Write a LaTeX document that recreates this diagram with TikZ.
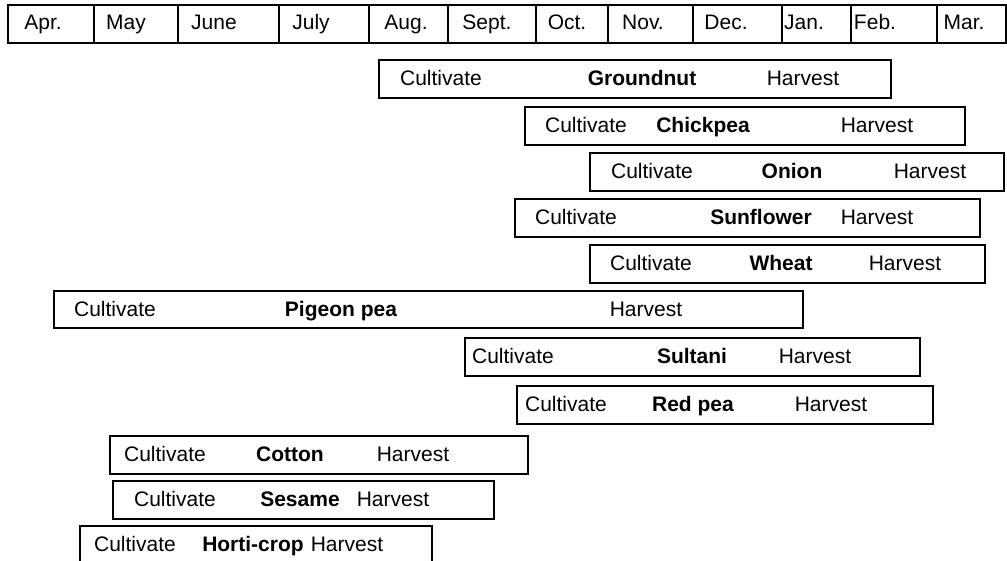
\documentclass[tikz,border=0pt]{standalone}
\usepackage{fontspec}
\setmainfont{Liberation Sans}
\tikzset{cell/.style={draw,line width=1.6pt,anchor=north west,inner sep=0pt,minimum height=38pt}}
\tikzset{cropbox/.style={cell}}
\tikzset{word/.style={anchor=base,inner sep=0pt,font=\fontsize{21}{25}\selectfont}}
\tikzset{crop/.style={word,font=\fontsize{21}{25}\selectfont\bfseries}}

\begin{document}
\begin{tikzpicture}[x=1pt,y=-1pt]
        \useasboundingbox (0,0) rectangle (1007,560);
        % month header
        \node[cell,minimum width=86pt] (apr) at (7,4) {};
        \node[cell,minimum width=84pt] (may) at (93,4) {};
        \node[cell,minimum width=101pt] (jun) at (177,4) {};
        \node[cell,minimum width=90pt] (jul) at (278,4) {};
        \node[cell,minimum width=79pt] (aug) at (368,4) {};
        \node[cell,minimum width=88pt] (sep) at (447,4) {};
        \node[cell,minimum width=72pt] (oct) at (535,4) {};
        \node[cell,minimum width=85pt] (nov) at (607,4) {};
        \node[cell,minimum width=89pt] (dec) at (692,4) {};
        \node[cell,minimum width=69pt] (jan) at (781,4) {};
        \node[cell,minimum width=86pt] (feb) at (850,4) {};
        \node[cell,minimum width=69pt] (mar) at (936,4) {};
        \node[word] (aprt) at (43,29.5) {Apr.};
        \node[word] (mayt) at (126,29.5) {May};
        \node[word] (junt) at (214,29.5) {June};
        \node[word] (jult) at (311,29.5) {July};
        \node[word] (augt) at (406,29.5) {Aug.};
        \node[word] (sept) at (487,29.5) {Sept.};
        \node[word] (octt) at (567,29.5) {Oct.};
        \node[word] (novt) at (643,29.5) {Nov.};
        \node[word] (dect) at (726,29.5) {Dec.};
        \node[word] (jant) at (804,29.5) {Jan.};
        \node[word] (febt) at (875,29.5) {Feb.};
        \node[word] (mart) at (964,29.5) {Mar.};
        % crops
        \node[cropbox,minimum width=512pt] (gnut) at (378,59) {};
            \node[word] (gnutc) at (441,85) {Cultivate};
            \node[crop] (gnutn) at (642,85) {Groundnut};
            \node[word] (gnuth) at (803,85) {Harvest};
        \node[cropbox,minimum width=440pt] (chick) at (524,106) {};
            \node[word] (chickc) at (586,132) {Cultivate};
            \node[crop] (chickn) at (703,132) {Chickpea};
            \node[word] (chickh) at (877,132) {Harvest};
        \node[cropbox,minimum width=414pt] (onion) at (589,152) {};
            \node[word] (onionc) at (652,178) {Cultivate};
            \node[crop] (onionn) at (792,178) {Onion};
            \node[word] (onionh) at (930,178) {Harvest};
        \node[cropbox,minimum width=465pt] (sunfl) at (514,198) {};
            \node[word] (sunflc) at (576,224) {Cultivate};
            \node[crop] (sunfln) at (761,224) {Sunflower};
            \node[word] (sunflh) at (877,224) {Harvest};
        \node[cropbox,minimum width=395pt] (wheat) at (589,244) {};
            \node[word] (wheatc) at (651,270) {Cultivate};
            \node[crop] (wheatn) at (781,270) {Wheat};
            \node[word] (wheath) at (905,270) {Harvest};
        \node[cropbox,minimum width=749pt,minimum height=37pt] (pigeon) at (53,290) {};
            \node[word] (pigeonc) at (115,316) {Cultivate};
            \node[crop] (pigeonn) at (341,316) {Pigeon pea};
            \node[word] (pigeonh) at (646,316) {Harvest};
        \node[cropbox,minimum width=455pt] (sultani) at (464,337) {};
            \node[word] (sultanic) at (513,363) {Cultivate};
            \node[crop] (sultanin) at (692,363) {Sultani};
            \node[word] (sultanih) at (815,363) {Harvest};
        \node[cropbox,minimum width=416pt] (redpea) at (516,385) {};
            \node[word] (redpeac) at (566,411) {Cultivate};
            \node[crop] (redpean) at (693,411) {Red pea};
            \node[word] (redpeah) at (831,411) {Harvest};
        \node[cropbox,minimum width=418pt] (cotton) at (109,435) {};
            \node[word] (cottonc) at (165,461) {Cultivate};
            \node[crop] (cottonn) at (290,461) {Cotton};
            \node[word] (cottonh) at (413,461) {Harvest};
        \node[cropbox,minimum width=381pt] (sesame) at (112,480) {};
            \node[word] (sesamec) at (175,506) {Cultivate};
            \node[crop] (sesamen) at (300,506) {Sesame};
            \node[word] (sesameh) at (393,506) {Harvest};
        \node[cropbox,minimum width=352pt,minimum height=40pt] (horti) at (79,525) {};
            \node[word] (hortic) at (135,551) {Cultivate};
            \node[crop] (hortin) at (253,551) {Horti-crop};
            \node[word] (hortih) at (347,551) {Harvest};
    \end{tikzpicture}
\end{document}
